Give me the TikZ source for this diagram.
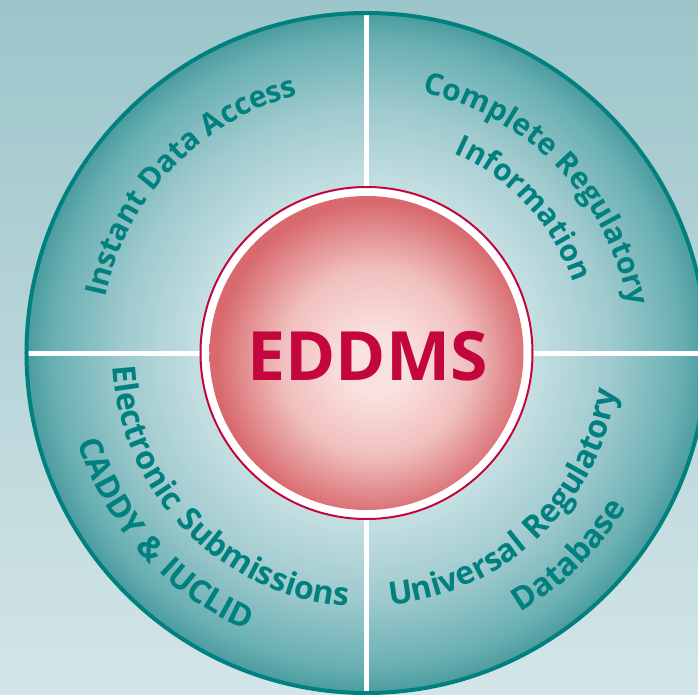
\documentclass[tikz,border=0pt]{standalone}
\usepackage{fontspec}
\setmainfont{Open Sans}
\newfontfamily\qwidefam{Open Sans}[LetterSpace=5]
\usetikzlibrary{decorations.text}
\definecolor{tealtxt}{HTML}{00807F}
\definecolor{crim}{HTML}{C4063F}
\definecolor{bgtop}{HTML}{9CC5CA}
\definecolor{bgbot}{HTML}{D3E5E8}
\definecolor{ringA}{HTML}{D0E6E9}
\definecolor{ringB}{HTML}{C6E0E3}
\definecolor{ringC}{HTML}{9FCACE}
\definecolor{ringD}{HTML}{6AB0B3}
\definecolor{ringE}{HTML}{4A9C9F}
\definecolor{diskA}{HTML}{F9E1DE}
\definecolor{diskB}{HTML}{F0BFBD}
\definecolor{diskC}{HTML}{D86A6F}
\pgfdeclareradialshading{ringshade}{\pgfpoint{0bp}{0bp}}{color(0bp)=(ringA); color(12bp)=(ringB); color(18bp)=(ringC); color(23bp)=(ringD); color(25bp)=(ringE); color(50bp)=(ringE)}
\pgfdeclareradialshading{diskshade}{\pgfpoint{2bp}{-2bp}}{color(0bp)=(diskA); color(5bp)=(diskA); color(15bp)=(diskB); color(25bp)=(diskC); color(50bp)=(diskC)}
\newcommand\qfont{\fontsize{30}{33}\selectfont\bfseries}
\newcommand\qwfont{\qwidefam\fontsize{32}{35}\selectfont\bfseries}
\tikzset{
  x=1pt, y=1pt,
  qtext/.style={decorate, decoration={text along path, text align=center, text color=tealtxt, text={|\qfont|#1}}},
  qwtext/.style={decorate, decoration={text along path, text align=center, text color=tealtxt, text={|\qwfont|#1}}},
  crossline/.style={draw=white, line width=5pt}
}
\begin{document}
\begin{tikzpicture}
\useasboundingbox (-366.5,-341) rectangle (331.5,353);
% background
\shade[top color=bgtop, bottom color=bgbot] (-366.5,-341) rectangle (331.5,353);
% outer ring
\shade[shading=ringshade] (0,0) circle (340);
\begin{scope}
  \clip (0,0) circle (339);
  \draw[crossline] (-345,0) -- (345,0);
  \draw[crossline] (0,-345) -- (0,345);
\end{scope}
\draw[tealtxt, line width=4pt] (0,0) circle (340);
% inner circle
\filldraw[fill=white, draw=crim, line width=2pt] (0,0) circle (166);
\shade[shading=diskshade] (0,0) circle (157);
\node[font=\fontsize{68}{72}\selectfont\bfseries, text=crim, inner sep=0pt] (core) at (1,-3.5) {EDDMS};
% quadrant texts
\path[qtext={Instant Data Access}] (180:267) arc[start angle=180, end angle=93, radius=267];
\path[qtext={Complete Regulatory}] (90:266) arc[start angle=90, end angle=-2, radius=266];
\path[qtext={Information}] (88:218) arc[start angle=88, end angle=-3, radius=218];
\path[qwtext={Electronic Submissions}] (172:254) arc[start angle=172, end angle=277, radius=254];
\path[qwtext={CADDY {\&} IUCLID}] (174:302) arc[start angle=174, end angle=270, radius=302];
\path[qwtext={Universal Regulatory}] (-99:253) arc[start angle=-99, end angle=5.8, radius=253];
\path[qwtext={Database}] (-90:302) arc[start angle=-90, end angle=0, radius=302];
\end{tikzpicture}
\end{document}
